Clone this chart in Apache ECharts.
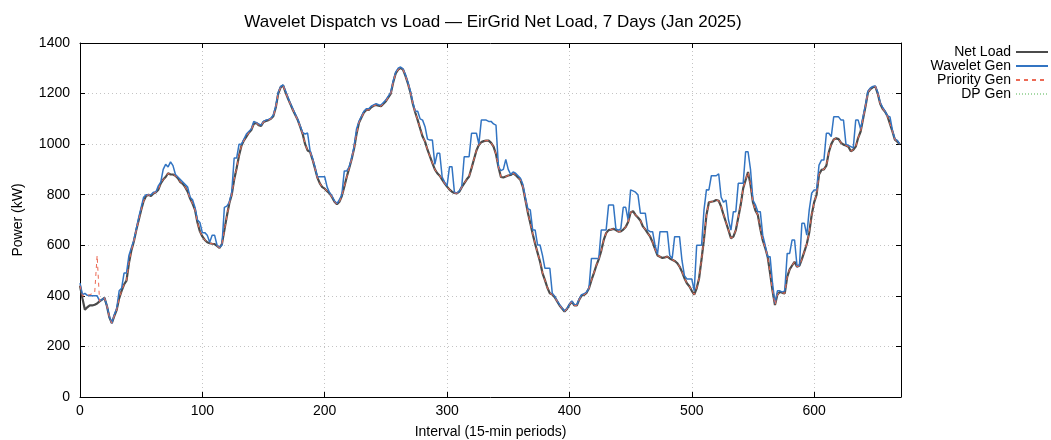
<!DOCTYPE html>
<html>
<head>
<meta charset="utf-8">
<script src="https://cdn.jsdelivr.net/npm/echarts@6/dist/echarts.min.js"></script>
<style>
  html, body { margin: 0; padding: 0; background: #fff; }
  #chart { width: 1051px; height: 440px; }
</style>
</head>
<body>
<div id="chart"></div>
<script>
// Interval spacing of the stored samples (15-min periods)
const STEP = 2;
const X_MAX = 671;

// Net load, kW, every STEP intervals starting at interval 0
const netLoad = [
  440,390,345,355,362,362,365,370,378,385,
  392,360,315,292,320,345,390,420,445,460,
  530,580,615,660,700,740,775,795,800,795,
  805,810,820,845,860,870,885,880,880,875,
  865,850,843,830,812,785,765,740,690,655,
  635,621,612,608,606,605,598,590,605,660,
  715,765,800,860,905,955,995,1015,1030,1045,
  1056,1080,1085,1075,1072,1088,1092,1095,1100,1110,
  1145,1200,1225,1232,1205,1180,1158,1135,1115,1095,
  1068,1040,1000,975,970,940,905,868,845,830,
  824,814,805,790,772,762,772,795,832,870,
  905,940,983,1040,1085,1105,1125,1135,1135,1146,
  1152,1155,1152,1150,1160,1170,1185,1200,1245,1280,
  1295,1302,1295,1270,1240,1205,1160,1125,1095,1062,
  1030,1010,978,952,925,900,885,875,860,845,
  832,820,812,807,805,812,830,845,860,872,
  905,940,975,997,1008,1012,1014,1014,1005,990,
  960,910,870,868,872,876,878,885,878,868,
  858,830,780,730,688,645,605,570,535,490,
  462,432,410,405,395,378,362,350,338,348,
  365,377,362,362,385,402,404,412,430,462,
  490,520,545,578,620,648,660,662,665,660,
  654,655,662,672,692,730,735,720,710,698,
  675,663,648,634,612,585,560,555,550,552,
  555,548,543,538,530,516,495,470,450,438,
  420,405,430,470,545,625,720,770,772,774,
  779,776,753,720,690,660,628,634,660,710,
  760,825,858,890,840,770,738,720,665,620,
  590,555,490,420,364,405,415,412,410,475,
  505,520,535,515,520,545,575,605,650,720,
  770,800,880,898,900,915,968,1000,1018,1023,
  1020,1005,998,995,990,972,978,990,1025,1050,
  1100,1150,1205,1218,1225,1228,1200,1160,1140,1128,
  1110,1080,1050,1018,1010,1000
];

// Wavelet dispatch output, kW, same sampling
const waveletGen = [
  450,405,410,402,400,400,400,400,380,385,
  392,362,318,292,325,350,420,430,490,490,
  560,590,620,665,710,750,790,800,800,800,
  810,810,835,850,900,920,910,930,915,880,
  870,860,850,840,830,790,780,750,700,690,
  650,650,640,612,640,640,600,592,600,750,
  755,770,810,945,945,1000,1000,1020,1040,1050,
  1060,1090,1085,1080,1075,1090,1095,1098,1102,1115,
  1150,1205,1228,1234,1210,1185,1160,1140,1118,1098,
  1072,1045,1040,1044,975,945,910,871,871,871,
  871,830,808,795,775,765,780,800,894,894,
  910,945,990,1060,1090,1110,1130,1140,1140,1150,
  1155,1160,1156,1155,1165,1175,1190,1205,1250,1285,
  1300,1305,1298,1275,1245,1210,1165,1130,1130,1100,
  1095,1069,1020,1016,1016,920,964,964,870,850,
  835,911,911,810,806,815,832,950,950,950,
  1043,1043,1043,1000,1095,1095,1095,1090,1090,1080,
  1075,910,895,900,940,900,880,890,885,875,
  865,840,790,745,740,660,660,601,601,560,
  509,509,509,410,398,380,365,352,340,350,
  367,380,365,365,388,405,408,415,432,548,
  548,548,548,660,660,660,759,759,759,665,
  660,665,750,750,700,819,815,810,800,727,
  727,727,660,654,654,600,565,654,654,654,
  654,560,548,634,634,634,540,480,467,467,
  467,420,600,600,600,740,820,819,875,875,
  875,883,790,770,779,700,660,733,733,845,
  845,845,970,970,900,779,760,733,733,640,
  600,555,555,450,370,420,420,415,420,568,
  568,621,621,520,520,687,687,640,740,806,
  819,819,917,937,937,1043,1043,1030,1108,1108,
  1108,1095,1095,1000,995,990,985,1095,1095,1060,
  1110,1155,1210,1222,1228,1230,1205,1165,1145,1130,
  1112,1108,1055,1020,1015,1000
];

// Priority dispatch: its own opening values, then it tracks the net load
const priorityGenHead = [440,400,400,402,405,408,412,560,378];
const priorityGen = priorityGenHead.concat(netLoad.slice(priorityGenHead.length));

// DP dispatch follows the net load
const dpGen = netLoad.slice();

const seriesNames = ['Net Load', 'Wavelet Gen', 'Priority Gen', 'DP Gen'];
const yTicks = { min: 0, max: 1400, interval: 200 };
const xTicks = { min: 0, max: X_MAX, interval: 100 };

const FONT = '"Liberation Sans", Arial, Helvetica, sans-serif';
const toPairs = arr => arr.map((v, i) => [i * STEP, v]);

const chart = echarts.init(document.getElementById('chart'), null, { renderer: 'canvas' });

const frameLine = { show: true, onZero: false, lineStyle: { color: '#000', width: 1 } };
const gridLine = { show: true, lineStyle: { color: '#c4c4c4', width: 1, type: [1, 3] } };
const tickStyle = { inside: true, length: 5, lineStyle: { color: '#000', width: 1 } };
const plainNumber = v => String(v);

chart.setOption({
  animation: false,
  backgroundColor: '#fff',
  title: {
    text: 'Wavelet Dispatch vs Load \u2014 EirGrid Net Load, 7 Days (Jan 2025)',
    left: 488,
    top: 9,
    textAlign: 'center',
    textStyle: { fontFamily: FONT, fontSize: 17, fontWeight: 'normal', color: '#000' }
  },
  legend: seriesNames.map((name, k) => ({
    data: [name],
    right: 2,
    top: 45 + k * 14,
    orient: 'vertical',
    align: 'right',
    padding: 0,
    itemGap: 0,
    itemWidth: 32,
    itemHeight: 10,
    selectedMode: false,
    itemStyle: { color: 'rgba(0,0,0,0)', borderColor: 'rgba(0,0,0,0)', borderWidth: 0 },
    textStyle: { fontFamily: FONT, fontSize: 14, color: '#000' }
  })),
  grid: {
    left: 80, right: 150, top: 43, bottom: 43,
    show: false,
    outerBoundsMode: 'none'
  },
  xAxis: [
    {
      type: 'value', min: xTicks.min, max: xTicks.max, interval: xTicks.interval,
      axisLine: frameLine,
      axisTick: tickStyle,
      axisLabel: { color: '#000', fontFamily: FONT, fontSize: 14, margin: 7, showMaxLabel: false, formatter: plainNumber },
      splitLine: gridLine,
      name: 'Interval (15-min periods)',
      nameLocation: 'middle',
      nameGap: 28,
      nameTextStyle: { fontFamily: FONT, fontSize: 14, color: '#000' }
    },
    {
      type: 'value', position: 'top', min: xTicks.min, max: xTicks.max, interval: xTicks.interval,
      axisLine: frameLine,
      axisTick: tickStyle,
      axisLabel: { show: false },
      splitLine: { show: false }
    }
  ],
  yAxis: [
    {
      type: 'value', min: yTicks.min, max: yTicks.max, interval: yTicks.interval,
      axisLine: frameLine,
      axisTick: tickStyle,
      axisLabel: { color: '#000', fontFamily: FONT, fontSize: 14, margin: 10, formatter: plainNumber },
      splitLine: gridLine,
      name: 'Power (kW)',
      nameLocation: 'middle',
      nameGap: 55,
      nameTextStyle: { fontFamily: FONT, fontSize: 14, color: '#000' }
    },
    {
      type: 'value', position: 'right', min: yTicks.min, max: yTicks.max, interval: yTicks.interval,
      axisLine: frameLine,
      axisTick: tickStyle,
      axisLabel: { show: false },
      splitLine: { show: false }
    }
  ],
  series: [
    {
      name: seriesNames[0], type: 'line', data: toPairs(netLoad), symbol: 'none', z: 2,
      itemStyle: { color: '#4b4b4b' },
      lineStyle: { color: '#4b4b4b', width: 2.2 }
    },
    {
      name: seriesNames[1], type: 'line', data: toPairs(waveletGen), symbol: 'none', z: 3,
      itemStyle: { color: '#3274c2' },
      lineStyle: { color: '#3274c2', width: 1.5 }
    },
    {
      name: seriesNames[2], type: 'line', data: toPairs(priorityGen), symbol: 'none', z: 4,
      itemStyle: { color: '#ec6a55' },
      lineStyle: { color: '#ec6a55', width: 1, type: [4, 4] }
    },
    {
      name: seriesNames[3], type: 'line', data: toPairs(dpGen), symbol: 'none', z: 1,
      itemStyle: { color: '#a6d9a6' },
      lineStyle: { color: '#a6d9a6', width: 1, type: [1, 2] }
    }
  ]
});
</script>
</body>
</html>
